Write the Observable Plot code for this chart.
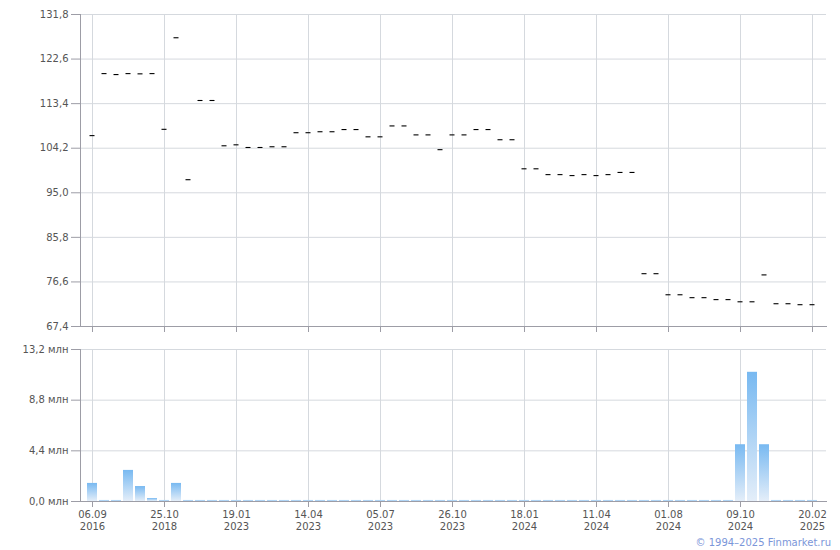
<!DOCTYPE html>
<html><head><meta charset="utf-8">
<script src="https://cdn.jsdelivr.net/npm/d3@7"></script>
<script src="https://cdn.jsdelivr.net/npm/@observablehq/plot@0.6"></script>
<style>
body{margin:0;background:#fff;font-family:"DejaVu Sans",Verdana,sans-serif;}
#chart{width:840px;height:550px;position:relative;}
svg{display:block;}
.copy{position:absolute;right:9px;top:536px;font-size:10px;color:#7b96d9;line-height:14px;font-family:"DejaVu Sans",Verdana,sans-serif;}
</style></head><body><div id="chart"></div>
<script>
// Closing prices, one per trading session (ordinal axis)
const closes = [
  106.8, 119.6, 119.4, 119.6, 119.55, 119.6, 108.1, 127.0, 97.7, 114.05,
  114.05, 104.7, 104.9, 104.35, 104.35, 104.5, 104.5, 107.4, 107.4, 107.6,
  107.6, 108.05, 108.05, 106.55, 106.55, 108.8, 108.8, 106.95, 106.95, 103.9,
  106.95, 106.95, 108.05, 108.05, 105.95, 105.95, 99.95, 99.95, 98.75, 98.75,
  98.55, 98.75, 98.55, 98.75, 99.2, 99.2, 78.3, 78.3, 73.95, 73.95,
  73.35, 73.35, 72.95, 72.95, 72.5, 72.5, 78.05, 72.1, 72.1, 71.9,
  71.9
];
// Trading volume, millions
const volumes = [
  1.57, 0.09, 0.09, 2.7, 1.3, 0.26, 0.09, 1.57, 0.09, 0.09,
  0.09, 0.09, 0.09, 0.09, 0.09, 0.09, 0.09, 0.09, 0.09, 0.09,
  0.09, 0.09, 0.09, 0.09, 0.09, 0.09, 0.09, 0.09, 0.09, 0.09,
  0.09, 0.09, 0.09, 0.09, 0.09, 0.09, 0.09, 0.09, 0.09, 0.09,
  0.09, 0.09, 0.09, 0.09, 0.09, 0.09, 0.09, 0.09, 0.09, 0.09,
  0.09, 0.09, 0.09, 0.09, 4.93, 11.22, 4.93, 0.09, 0.09, 0.09,
  0.09
];
// X tick positions (session index) and their labels
const tickIndex = [0, 6, 12, 18, 24, 30, 36, 42, 48, 54, 60];
const tickLabels = ["06.09\n2016", "25.10\n2018", "19.01\n2023", "14.04\n2023", "05.07\n2023",
  "26.10\n2023", "18.01\n2024", "11.04\n2024", "01.08\n2024", "09.10\n2024", "20.02\n2025"];
const priceTicks = [67.4, 76.6, 85.8, 95.0, 104.2, 113.4, 122.6, 131.8];
const volumeTicks = [0, 4.4, 8.8, 13.2];

const rows = closes.map((c, i) => ({i, close: c, vol: volumes[i]}));
const domain = rows.map(d => d.i);
const labelOf = new Map(tickIndex.map((t, k) => [t, tickLabels[k]]));
const comma = v => v.toFixed(1).replace(".", ",");

const gridColor = "#d5d9de";
const axisColor = "#9d9da6";
const textColor = "#555";
const style = {fontFamily: "DejaVu Sans, Verdana, sans-serif", fontSize: "10px", color: textColor, background: "#fff"};
const xOpts = {type: "band", domain, padding: 0, insetLeft: 5, insetRight: 7, axis: null};

const priceChart = Plot.plot({
  width: 840, height: 340,
  marginLeft: 80, marginRight: 14, marginTop: 14, marginBottom: 14,
  style,
  x: xOpts,
  y: {domain: [67.4, 131.8], axis: null},
  marks: [
    Plot.gridY(priceTicks, {stroke: gridColor, strokeOpacity: 1}),
    Plot.gridX(tickIndex, {stroke: gridColor, strokeOpacity: 1}),
    Plot.axisY(priceTicks, {tickSize: 9, tickPadding: 3, tickFormat: comma, stroke: axisColor, fill: textColor, label: null}),
    Plot.axisX(tickIndex, {tickSize: 6, tickFormat: () => "", stroke: axisColor, label: null}),
    Plot.frame({anchor: "left", stroke: axisColor}),
    Plot.frame({anchor: "bottom", stroke: axisColor}),
    Plot.tickY(rows, {x: "i", y: "close", stroke: "#000", strokeWidth: 1.1, insetLeft: 3.5, insetRight: 3.5})
  ]
});

const gradient = () => {
  const defs = d3.create("svg:defs");
  const g = defs.append("linearGradient").attr("id", "volGrad")
    .attr("x1", 0).attr("y1", 0).attr("x2", 0).attr("y2", 1);
  g.append("stop").attr("offset", "0%").attr("stop-color", "#78b9f1");
  g.append("stop").attr("offset", "100%").attr("stop-color", "#e4eef9");
  return defs.node();
};

const volumeChart = Plot.plot({
  width: 840, height: 196,
  marginLeft: 80, marginRight: 14, marginTop: 9, marginBottom: 35,
  style,
  x: xOpts,
  y: {domain: [0, 13.2], axis: null},
  marks: [
    gradient,
    Plot.gridY(volumeTicks, {stroke: gridColor, strokeOpacity: 1}),
    Plot.gridX(tickIndex, {stroke: gridColor, strokeOpacity: 1}),
    Plot.barY(rows, {x: "i", y: "vol", fill: "url(#volGrad)", insetLeft: 1, insetRight: 1}),
    Plot.axisY(volumeTicks, {tickSize: 9, tickPadding: 3, tickFormat: v => comma(v) + " млн", stroke: axisColor, fill: textColor, label: null}),
    Plot.axisX(tickIndex, {tickSize: 6, tickPadding: 2, tickFormat: i => labelOf.get(i), stroke: axisColor, fill: textColor, lineHeight: 1.2, label: null}),
    Plot.frame({anchor: "left", stroke: axisColor}),
    Plot.frame({anchor: "bottom", stroke: axisColor})
  ]
});

const root = document.getElementById("chart");
root.append(priceChart, volumeChart);
const copy = document.createElement("div");
copy.className = "copy";
copy.textContent = "© 1994–2025 Finmarket.ru";
root.append(copy);
</script></body></html>
